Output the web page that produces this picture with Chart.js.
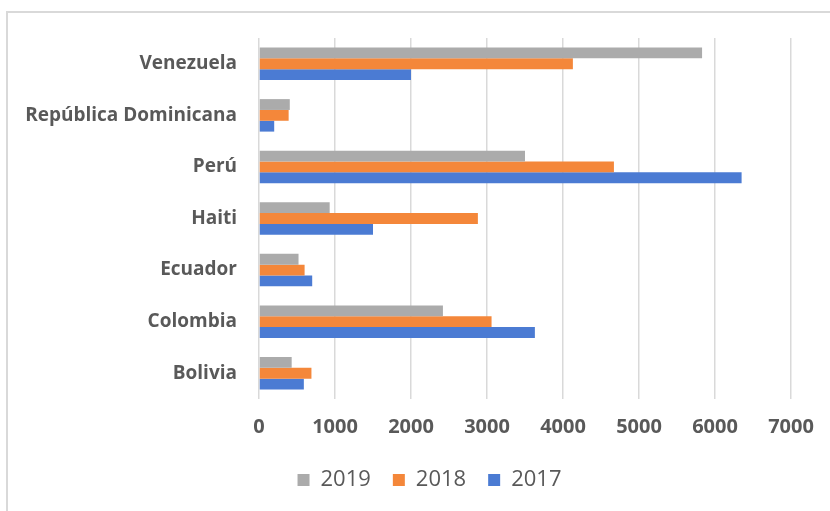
<!DOCTYPE html>
<html>
<head>
<meta charset="utf-8">
<script src="https://cdn.jsdelivr.net/npm/chart.js@4"></script>
<style>
  html, body { margin: 0; padding: 0; background: #fff; overflow: hidden; }
  #wrap { position: relative; width: 830px; height: 511px; }
  #frame { position: absolute; left: 6px; top: 11px; width: 900px; height: 600px;
           border: 2px solid #d9d9d9; pointer-events: none; }
</style>
</head>
<body>
<div id="wrap">
  <canvas id="chart" width="830" height="511"></canvas>
  <div id="frame"></div>
</div>
<script>
// countries, top to bottom
const categories = ['Venezuela', 'República Dominicana', 'Perú', 'Haiti', 'Ecuador', 'Colombia', 'Bolivia'];
const values2019 = [5830, 405, 3500, 930, 520, 2420, 430];
const values2018 = [4130, 390, 4670, 2880, 600, 3060, 690];
const values2017 = [2000, 200, 6350, 1500, 700, 3630, 590];
const xTicks = [0, 1000, 2000, 3000, 4000, 5000, 6000, 7000];

const textColor = '#595959';
const fontFamily = '"Open Sans", "Noto Sans", sans-serif';

// the legend in the original sits a bit right of centre
const legendShift = {
    id: 'legendShift',
    afterLayout: (chart) => {
        if (chart.legend) {
            chart.legend.left += 34;
            chart.legend.right += 34;
        }
    }
};

const ctx = document.getElementById('chart');

new Chart(ctx, {
    type: 'bar',
    data: {
        labels: categories,
        datasets: [
            { label: '2019', data: values2019, backgroundColor: '#ababab' },
            { label: '2018', data: values2018, backgroundColor: '#f4873a' },
            { label: '2017', data: values2017, backgroundColor: '#4b7bd3' }
        ]
    },
    options: {
        indexAxis: 'y',
        responsive: false,
        animation: false,
        devicePixelRatio: 1,
        categoryPercentage: 0.63,
        barPercentage: 1,
        layout: {
            padding: { top: 38, right: 39, left: 0, bottom: 10 }
        },
        plugins: {
            tooltip: { enabled: false },
            legend: {
                position: 'bottom',
                labels: {
                    color: textColor,
                    font: { family: fontFamily, size: 22 },
                    boxWidth: 12,
                    boxHeight: 12,
                    padding: 22
                }
            }
        },
        scales: {
            x: {
                min: 0,
                max: 7000,
                afterBuildTicks: (scale) => {
                    scale.ticks = xTicks.map(v => ({ value: v }));
                },
                afterFit: (scale) => { scale.height = 48; },
                grid: { color: '#d9d9d9', lineWidth: 1.5, drawTicks: false },
                border: { display: false },
                ticks: {
                    color: textColor,
                    padding: 16,
                    callback: (v) => String(v),
                    font: { family: fontFamily, size: 20, weight: 'bold' }
                }
            },
            y: {
                afterFit: (scale) => { scale.width = 259; },
                grid: { display: false },
                border: { display: false },
                ticks: {
                    color: textColor,
                    padding: 14,
                    font: { family: fontFamily, size: 19, weight: 'bold' }
                }
            }
        }
    },
    plugins: [legendShift]
});
</script>
</body>
</html>
